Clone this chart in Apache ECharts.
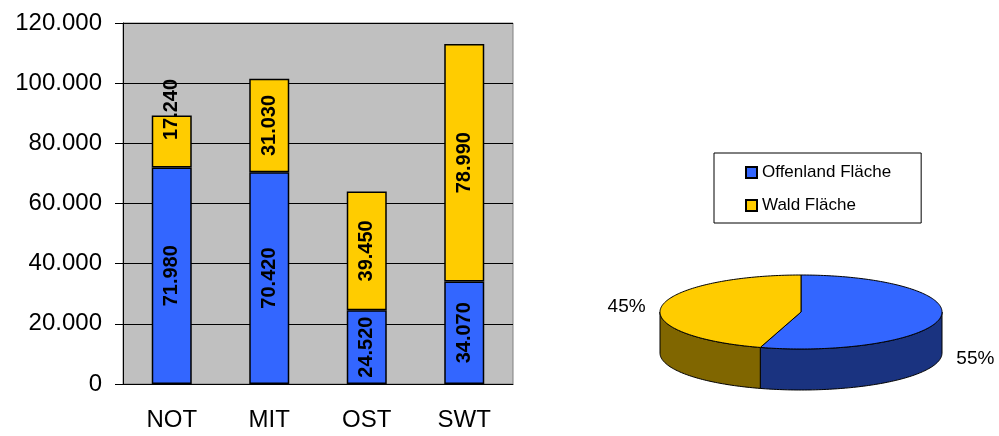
<!DOCTYPE html>
<html>
<head>
<meta charset="utf-8">
<script src="https://cdn.jsdelivr.net/npm/echarts@6/dist/echarts.min.js"></script>
<style>
  html, body { margin: 0; padding: 0; background: #fff; }
  #chart { width: 999px; height: 436px; }
</style>
</head>
<body>
<div id="chart"></div>
<script>
// Regionen und Flächen
const regions = ['NOT', 'MIT', 'OST', 'SWT']
const offenland = [71980, 70420, 24520, 34070]
const wald = [17240, 31030, 39450, 78990]
const seriesNames = ['Offenland Fläche', 'Wald Fläche']
const yTicks = [0, 20000, 40000, 60000, 80000, 100000, 120000]

const sum = (arr) => arr.reduce((a, b) => a + b, 0)
// Summen für den Kreis
const pieValues = [sum(offenland), sum(wald)]

const BLUE = '#3366ff'
const YELLOW = '#ffcc00'
const BLUE_DARK = '#1a3380'
const YELLOW_DARK = '#806600'
const FONT = 'Liberation Sans, Arial, sans-serif'

function dotted(v) {
    return String(v).replace(/\B(?=(\d{3})+(?!\d))/g, '.')
}

const chart = echarts.init(document.getElementById('chart'))

const barLabel = {
    show: true,
    position: 'inside',
    rotate: 90,
    fontFamily: FONT,
    fontWeight: 'bold',
    fontSize: 20,
    color: '#000',
    formatter: (p) => dotted(p.value)
}

// Kreis (3D-Optik) per custom series
const PIE = { cx: 801, cy: 312, rx: 141, ry: 37, depth: 41 }

function piePoint(t, dy) {
    return [PIE.cx + PIE.rx * Math.sin(t), PIE.cy - PIE.ry * Math.cos(t) + dy]
}

function arcPoints(a, b, dy) {
    const pts = []
    const steps = Math.max(2, Math.ceil((b - a) / 0.02))
    for (let i = 0; i <= steps; i++) {
        pts.push(piePoint(a + (b - a) * i / steps, dy))
    }
    return pts
}

function renderPie(params, api) {
    const idx = params.dataIndex
    const total = sum(pieValues)
    let before = 0
    for (let i = 0; i < idx; i++) before += pieValues[i]
    const v = api.value(0)
    const start = before / total * Math.PI * 2
    const end = start + v / total * Math.PI * 2
    const fill = idx === 0 ? BLUE : YELLOW
    const dark = idx === 0 ? BLUE_DARK : YELLOW_DARK
    const children = []

    // sichtbare Seitenwand (vordere Hälfte)
    const s0 = Math.max(start, Math.PI / 2)
    const s1 = Math.min(end, Math.PI * 1.5)
    if (s1 > s0) {
        const upper = arcPoints(s0, s1, 0)
        const lower = arcPoints(s0, s1, PIE.depth).reverse()
        children.push({
            type: 'polygon',
            shape: { points: upper.concat(lower) },
            style: { fill: dark, stroke: '#000', lineWidth: 1 }
        })
    }

    // Deckfläche
    children.push({
        type: 'polygon',
        shape: { points: [[PIE.cx, PIE.cy]].concat(arcPoints(start, end, 0)) },
        style: { fill: fill, stroke: '#000', lineWidth: 1 }
    })

    const mid = (start + end) / 2
    const front = Math.cos(mid) < 0
    children.push({
        type: 'text',
        x: PIE.cx + PIE.rx * 1.25 * Math.sin(mid),
        y: PIE.cy - PIE.ry * Math.cos(mid) + (front ? PIE.depth : 0),
        style: {
            text: Math.round(v / total * 100) + '%',
            fontFamily: FONT,
            fontSize: 19,
            fill: '#000',
            align: 'center',
            verticalAlign: 'middle'
        }
    })
    return { type: 'group', children: children }
}

const option = {
    animation: false,
    backgroundColor: '#fff',
    textStyle: { fontFamily: FONT },
    grid: {
        left: 123,
        right: 486,
        top: 23,
        bottom: 52,
        show: true,
        backgroundColor: '#c0c0c0',
        borderColor: '#808080',
        borderWidth: 1
    },
    legend: {
        orient: 'vertical',
        left: 714,
        top: 153,
        data: seriesNames,
        icon: 'rect',
        itemWidth: 11,
        itemHeight: 11,
        itemGap: 16,
        padding: [11, 30, 9, 31],
        borderColor: '#000',
        borderWidth: 1,
        selectedMode: false,
        textStyle: { fontFamily: FONT, fontSize: 17, color: '#000' }
    },
    xAxis: {
        type: 'category',
        data: regions,
        axisLine: { lineStyle: { color: '#000', width: 1 } },
        axisTick: { length: 8, interval: 0, lineStyle: { color: '#000' } },
        axisLabel: { fontFamily: FONT, fontSize: 24, color: '#000', margin: 24 }
    },
    yAxis: {
        type: 'value',
        min: yTicks[0],
        max: yTicks[yTicks.length - 1],
        interval: yTicks[1] - yTicks[0],
        axisLine: { show: true, lineStyle: { color: '#000', width: 1 } },
        axisTick: { show: true, length: 8, lineStyle: { color: '#000' } },
        splitLine: { lineStyle: { color: '#000', width: 1 } },
        axisLabel: {
            fontFamily: FONT,
            fontSize: 24,
            color: '#000',
            margin: 21,
            formatter: (v) => dotted(v)
        }
    },
    series: [
        {
            name: seriesNames[0],
            type: 'bar',
            stack: 'flaeche',
            barWidth: 40,
            data: offenland,
            itemStyle: { color: BLUE, borderColor: '#000', borderWidth: 1.5 },
            label: barLabel
        },
        {
            name: seriesNames[1],
            type: 'bar',
            stack: 'flaeche',
            barWidth: 40,
            // die erste Beschriftung sitzt im Original etwas höher
            data: wald.map((v, i) => i === 0 ? { value: v, label: { offset: [32, 0] } } : v),
            itemStyle: { color: YELLOW, borderColor: '#000', borderWidth: 1.5 },
            label: barLabel
        },
        {
            type: 'custom',
            coordinateSystem: 'none',
            data: pieValues,
            renderItem: renderPie
        }
    ]
}

chart.setOption(option)
</script>
</body>
</html>
